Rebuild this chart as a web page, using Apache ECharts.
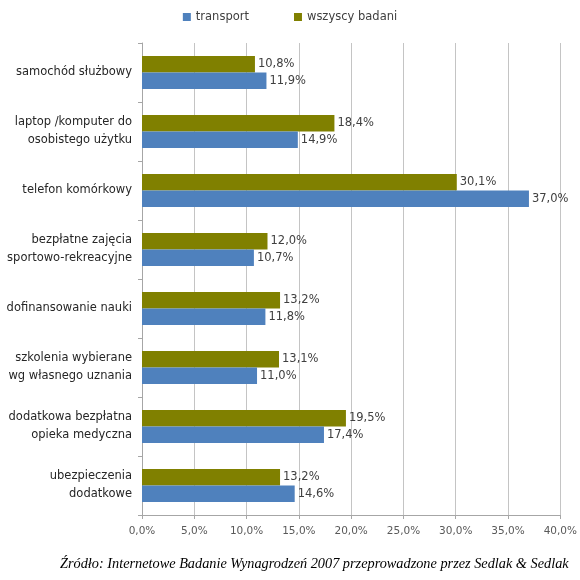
<!DOCTYPE html>
<html>
<head>
<meta charset="utf-8">
<script src="https://cdn.jsdelivr.net/npm/echarts@6/dist/echarts.min.js"></script>
<style>
  html, body { margin: 0; padding: 0; background: #fff; }
  #chart { width: 580px; height: 580px; }
</style>
</head>
<body>
<div id="chart"></div>
<script>
// dane z wykresu (w %)
var categories = [
  'samochód służbowy',
  'laptop /komputer do\nosobistego użytku',
  'telefon komórkowy',
  'bezpłatne zajęcia\nsportowo-rekreacyjne',
  'dofinansowanie nauki',
  'szkolenia wybierane\nwg własnego uznania',
  'dodatkowa bezpłatna\nopieka medyczna',
  'ubezpieczenia\ndodatkowe'
];
var transport = [11.9, 14.9, 37.0, 10.7, 11.8, 11.0, 17.4, 14.6];
var wszyscy = [10.8, 18.4, 30.1, 12.0, 13.2, 13.1, 19.5, 13.2];
var seriesNames = ['transport', 'wszyscy badani'];
var source = 'Źródło: Internetowe Badanie Wynagrodzeń 2007 przeprowadzone przez Sedlak & Sedlak';

function pct(v) {
  return v.toFixed(1).replace('.', ',') + '%';
}

var chart = echarts.init(document.getElementById('chart'));
var labelStyle = {
  show: true,
  position: 'right',
  distance: 3,
  color: '#404040',
  fontFamily: 'DejaVu Sans',
  fontSize: 11.5,
  formatter: function (p) { return pct(p.value); }
};

var option = {
  animation: false,
  backgroundColor: '#fff',
  legend: {
    top: 6,
    left: 'center',
    itemWidth: 8,
    itemHeight: 8,
    itemGap: 45,
    icon: 'rect',
    textStyle: { color: '#404040', fontFamily: 'DejaVu Sans', fontSize: 11.5 },
    data: seriesNames
  },
  grid: { left: 142, right: 15, top: 43, bottom: 65 },
  xAxis: {
    type: 'value',
    min: 0,
    max: 40,
    interval: 5,
    axisLine: { show: true, lineStyle: { color: '#a6a6a6' } },
    axisTick: { show: true, length: 4, lineStyle: { color: '#a6a6a6' } },
    splitLine: { show: true, lineStyle: { color: '#c4c4c4' } },
    axisLabel: {
      margin: 11,
      color: '#595959',
      fontFamily: 'DejaVu Sans',
      fontSize: 10.5,
      formatter: function (v) { return pct(v); }
    }
  },
  yAxis: {
    type: 'category',
    inverse: true,
    data: categories,
    axisLine: { show: true, lineStyle: { color: '#a6a6a6' } },
    axisTick: { show: true, length: 4, lineStyle: { color: '#a6a6a6' } },
    axisLabel: {
      margin: 10,
      color: '#262626',
      fontFamily: 'DejaVu Sans',
      fontSize: 11.5,
      lineHeight: 18,
      align: 'right'
    }
  },
  series: [
    {
      name: seriesNames[1],
      type: 'bar',
      data: wszyscy,
      barWidth: 16.5,
      barGap: '0%',
      itemStyle: { color: '#808000' },
      label: labelStyle
    },
    {
      name: seriesNames[0],
      type: 'bar',
      data: transport,
      barWidth: 16.5,
      barGap: '0%',
      itemStyle: { color: '#4f81bd' },
      label: labelStyle
    }
  ],
  graphic: [{
    type: 'text',
    left: 60,
    top: 557,
    style: {
      text: source,
      fill: '#000',
      font: 'italic 14.3px "Liberation Serif"'
    }
  }]
};
chart.setOption(option);
</script>
</body>
</html>
